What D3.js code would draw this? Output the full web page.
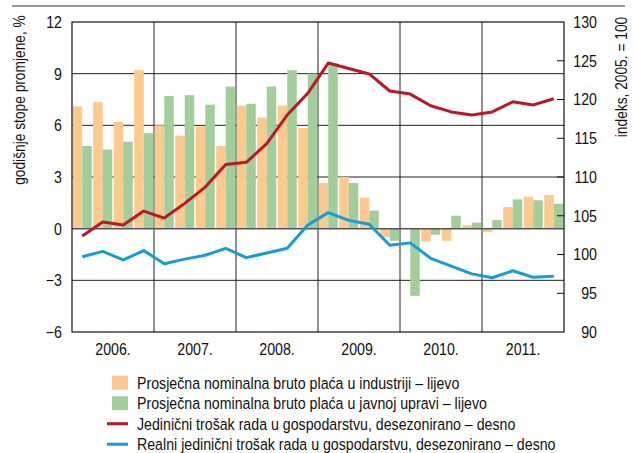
<!DOCTYPE html>
<html><head><meta charset="utf-8">
<script src="https://cdn.jsdelivr.net/npm/d3@7"></script>
<style>
html,body{margin:0;padding:0;background:#fff;}
svg text{font-family:"Liberation Sans",Arial,sans-serif;fill:#111;}
</style></head>
<body><svg id="c" width="636" height="453"></svg>
<script>
const years = ["2006.","2007.","2008.","2009.","2010.","2011."];
const quarters = d3.range(24);
const industry = [7.1,7.35,6.2,9.2, 6.0,5.4,5.95,4.8, 7.15,6.45,7.15,5.85, 2.65,3.0,1.8,-0.5, 0.05,-0.75,-0.7,0.2, -0.2,1.25,1.85,1.95];
const publicAdmin = [4.8,4.6,5.05,5.55, 7.7,7.75,7.2,8.25, 7.25,8.25,9.2,9.0, 9.6,2.65,1.05,-0.7, -3.9,-0.35,0.75,0.35, 0.5,1.7,1.65,1.45];
const ulc = [102.4,104.2,103.8,105.6, 104.7,106.6,108.7,111.6, 111.9,114.3,118.0,120.8, 124.7,124.0,123.3,121.1, 120.7,119.2,118.4,118.0, 118.4,119.7,119.3,120.1];
const realUlc = [99.7,100.4,99.3,100.5, 98.8,99.4,99.9,100.8, 99.6,100.2,100.8,103.8, 105.4,104.4,103.9,101.2, 101.5,99.5,98.5,97.5, 97.0,97.9,97.05,97.2];
const leftTicks = [12,9,6,3,0,-3,-6];
const rightTicks = [130,125,120,115,110,105,100,95,90];
const legendItems = [
  {label:"Prosječna nominalna bruto plaća u industriji – lijevo", type:"bar", color:"#FCC98F"},
  {label:"Prosječna nominalna bruto plaća u javnoj upravi – lijevo", type:"bar", color:"#A2CE9B"},
  {label:"Jedinični trošak rada u gospodarstvu, desezonirano – desno", type:"line", color:"#BE1622"},
  {label:"Realni jedinični trošak rada u gospodarstvu, desezonirano – desno", type:"line", color:"#139DDB"}
];

const L=72, R=564, T=22, B=332;
const SX = 0.86; // condensed look
const svg = d3.select("#c");
const yL = d3.scaleLinear().domain([-6,12]).range([B,T]);
const yR = d3.scaleLinear().domain([90,130]).range([B,T]);
const xYear = d3.scaleBand().domain(years).range([L,R]);
const xQ = d3.scaleBand().domain(quarters).range([L,R]).paddingInner(0.07).paddingOuter(0.035);
const xSub = d3.scaleBand().domain([0,1]).range([0,xQ.bandwidth()]);

function ctext(sel, x, y, rot){
  return sel.attr("transform", `translate(${x},${y})` + (rot?` rotate(${rot})`:"") + ` scale(${SX},1)`);
}

// top rule
svg.append("line").attr("x1",12).attr("x2",625).attr("y1",6).attr("y2",6).attr("stroke","#999").attr("stroke-width",2);

// gridlines
const g = svg.append("g");
g.selectAll(".hg").data(leftTicks.filter(d=>d!==12&&d!==-6&&d!==0)).join("line")
  .attr("x1",L).attr("x2",R).attr("y1",d=>yL(d)).attr("y2",d=>yL(d)).attr("stroke","#222").attr("stroke-width",1);
g.selectAll(".vg").data(years.slice(1)).join("line")
  .attr("x1",d=>xYear(d)).attr("x2",d=>xYear(d)).attr("y1",T).attr("y2",B).attr("stroke","#222").attr("stroke-width",1);

// bars
const bars = svg.append("g");
const series = [industry, publicAdmin];
series.forEach((vals,si)=>{
  bars.selectAll(".b"+si).data(vals).join("rect")
    .attr("x",(d,i)=>xQ(i)+xSub(si))
    .attr("width",xSub.bandwidth())
    .attr("y",d=>yL(Math.max(0,d)))
    .attr("height",d=>Math.abs(yL(d)-yL(0)))
    .attr("fill",legendItems[si].color);
});
// zero line
svg.append("line").attr("x1",L).attr("x2",R).attr("y1",yL(0)).attr("y2",yL(0)).attr("stroke","#555").attr("stroke-width",1.5);

// lines
const cx = i=>xQ(i)+xQ.bandwidth()/2;
[[ulc,2],[realUlc,3]].forEach(([vals,li])=>{
  svg.append("path").datum(vals)
    .attr("d",d3.line().x((d,i)=>cx(i)).y(d=>yR(d)))
    .attr("fill","none").attr("stroke",legendItems[li].color).attr("stroke-width",3).attr("stroke-linejoin","round");
});

// frame
svg.append("rect").attr("x",L).attr("y",T).attr("width",R-L).attr("height",B-T).attr("fill","none").attr("stroke","#111").attr("stroke-width",1.2);

// left axis labels
svg.append("g").selectAll("text").data(leftTicks).join("text")
  .each(function(d){ ctext(d3.select(this), 62, yL(d)); })
  .attr("dy","0.36em").attr("text-anchor","end").attr("font-size",16.5)
  .text(d=>d<0?"\u2212"+Math.abs(d):d);
// right axis ticks + labels
const ra = svg.append("g");
ra.selectAll("line").data(rightTicks.slice(1,-1)).join("line")
  .attr("x1",R-7).attr("x2",R).attr("y1",d=>yR(d)).attr("y2",d=>yR(d)).attr("stroke","#111");
ra.selectAll("text").data(rightTicks).join("text")
  .each(function(d){ ctext(d3.select(this), 597, yR(d)); })
  .attr("dy","0.36em").attr("text-anchor","end").attr("font-size",16.5)
  .text(d=>d);
// x labels
svg.append("g").selectAll("text").data(years).join("text")
  .each(function(d){ ctext(d3.select(this), xYear(d)+xYear.bandwidth()/2, 355); })
  .attr("text-anchor","middle").attr("font-size",16.5)
  .text(d=>d);
// axis titles
ctext(svg.append("text"), 25, 100, -90).attr("text-anchor","middle").attr("font-size",16)
  .text("godišnje stope promjene, %");
ctext(svg.append("text"), 627, 77, -90).attr("text-anchor","middle").attr("font-size",16)
  .text("indeks, 2005. = 100");

// legend
const lg = svg.append("g");
legendItems.forEach((it,i)=>{
  const cy = 382.7 + i*20.5;
  if(it.type==="bar"){
    lg.append("rect").attr("x",112).attr("y",cy-7).attr("width",16).attr("height",14).attr("fill",it.color);
  } else {
    lg.append("line").attr("x1",107).attr("x2",128).attr("y1",cy).attr("y2",cy).attr("stroke",it.color).attr("stroke-width",3);
  }
  ctext(lg.append("text"), 137, cy).attr("dy","0.36em").attr("font-size",16.5).text(it.label);
});
</script></body></html>
